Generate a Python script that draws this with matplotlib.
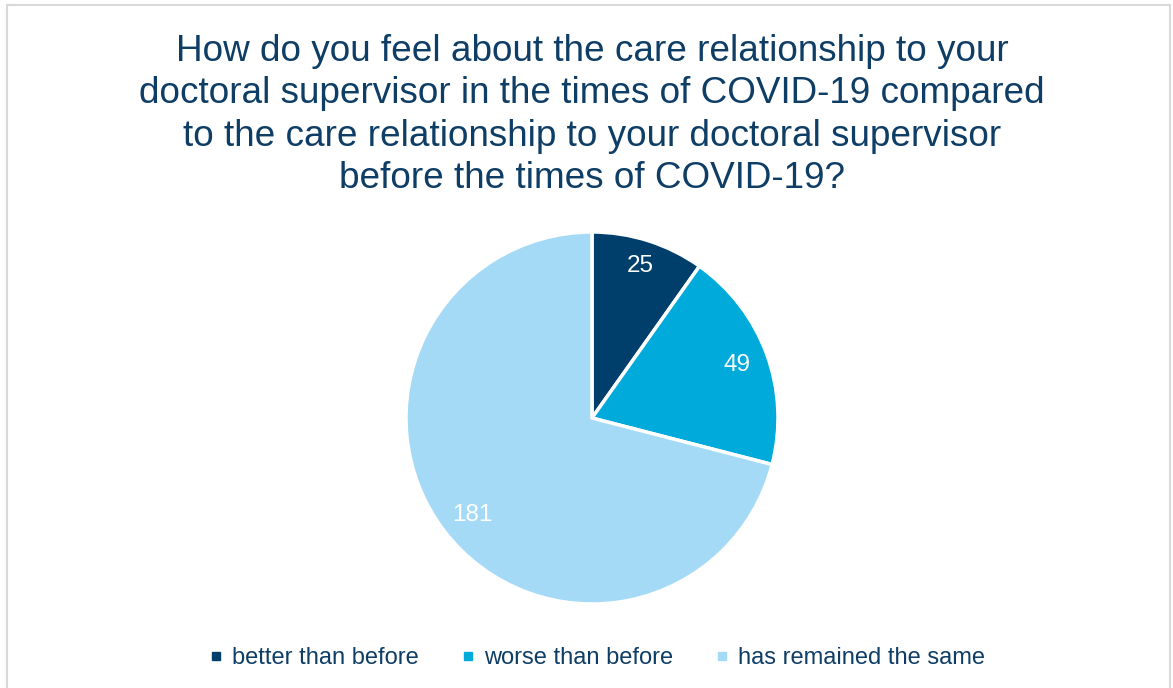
import numpy as np
import matplotlib
matplotlib.use("Agg")
import matplotlib.pyplot as plt
from matplotlib.lines import Line2D
from matplotlib.patches import Rectangle

plt.rcParams['font.family'] = ['Liberation Sans', 'DejaVu Sans']

categories = ["better than before", "worse than before", "has remained the same"]
values = [25, 49, 181]
colors = ["#003F6B", "#00AADB", "#A5DAF6"]
title = ("How do you feel about the care relationship to your\n"
         "doctoral supervisor in the times of COVID-19 compared\n"
         "to the care relationship to your doctoral supervisor\n"
         "before the times of COVID-19?")
text_color = "#0E3D66"

W, H = 1173, 688
fig = plt.figure(figsize=(W / 100, H / 100), dpi=100)
fig.patch.set_facecolor("white")

# border
fig.add_artist(Rectangle((7 / W, -0.01), (1170 - 7) / W, 1 - 5 / H + 0.01,
                         transform=fig.transFigure, fill=False,
                         edgecolor="#D9D9D9", linewidth=1.5))

fig.text(592 / W, 1 - 34 / H, title, ha="center", va="top", fontsize=26.6,
         color=text_color, linespacing=1.27)

cx, cy, r = 592, 418, 186
ax = fig.add_axes([(cx - r) / W, (H - cy - r) / H, 2 * r / W, 2 * r / H])
wedges, _ = ax.pie(values, colors=colors, startangle=90, counterclock=False,
                   radius=1, wedgeprops=dict(edgecolor="white", linewidth=2.5))
ax.set_xlim(-1.0, 1.0)
ax.set_ylim(-1.0, 1.0)
ax.set_aspect("equal")
ax.axis("off")

# data labels
total = sum(values)
start = 90.0
angles = []
for v in values:
    span = v / total * 360
    angles.append(start - span / 2)
    start -= span
angles[2] = 219.0  # best-fit placement used in the original
dists = [0.855, 0.833, 0.83]
for v, a, d in zip(values, angles, dists):
    t = np.deg2rad(a)
    ax.text(d * np.cos(t), d * np.sin(t), str(v), ha="center", va="center",
            color="white", fontsize=17.5)

handles = [Line2D([], [], marker="s", linestyle="none", markersize=5.5,
                  markerfacecolor=c, markeredgecolor=c) for c in colors]
fig.legend(handles, categories, loc="center", bbox_to_anchor=(597 / W, 1 - 658 / H),
           ncol=3, frameon=False, fontsize=17, handlelength=0.6, handletextpad=0.38,
           columnspacing=1.78, labelcolor=text_color)

fig.savefig("out.png", dpi=100)
